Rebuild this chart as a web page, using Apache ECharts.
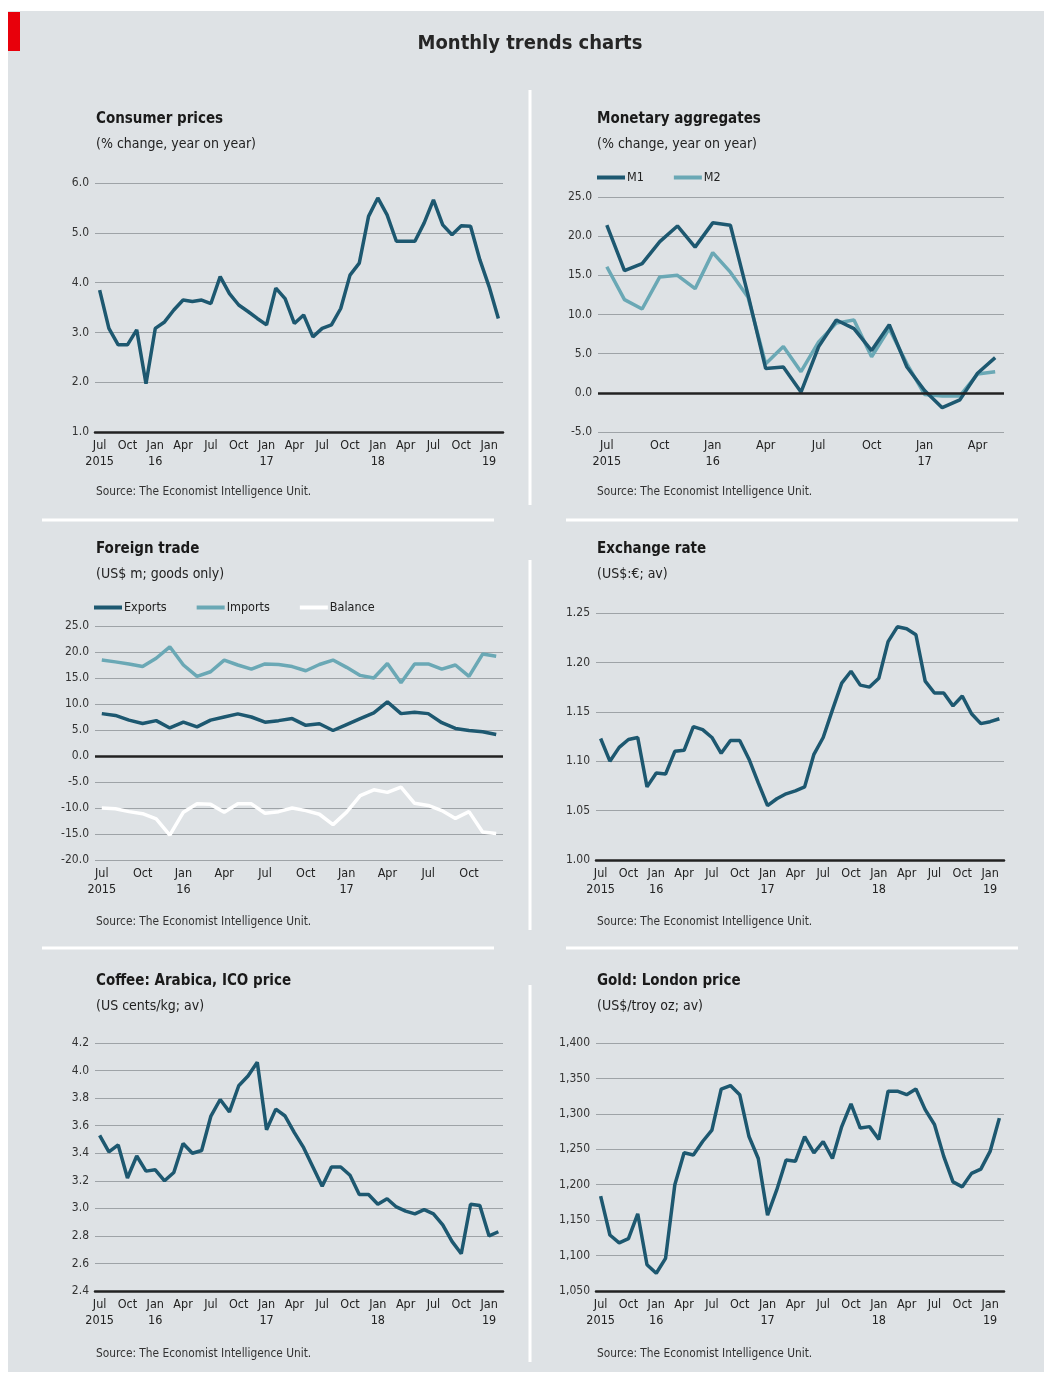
<!DOCTYPE html>
<html><head><meta charset="utf-8">
<script src="https://cdn.jsdelivr.net/npm/echarts@6/dist/echarts.min.js"></script>
<style>
html,body{margin:0;padding:0;background:#fff}
#bg{position:absolute;left:8px;top:11px;width:1036px;height:1361px;background:#dee2e5}
#c{position:absolute;left:0;top:0;width:1044px;height:1374px}
</style>
</head><body><div id="bg"></div><div id="c"></div><script>
// ---- categories (months) ----
const months44 = ['Jul 2015','Aug 2015','Sep 2015','Oct 2015','Nov 2015','Dec 2015',
  'Jan 2016','Feb 2016','Mar 2016','Apr 2016','May 2016','Jun 2016','Jul 2016','Aug 2016','Sep 2016','Oct 2016','Nov 2016','Dec 2016',
  'Jan 2017','Feb 2017','Mar 2017','Apr 2017','May 2017','Jun 2017','Jul 2017','Aug 2017','Sep 2017','Oct 2017','Nov 2017','Dec 2017',
  'Jan 2018','Feb 2018','Mar 2018','Apr 2018','May 2018','Jun 2018','Jul 2018','Aug 2018','Sep 2018','Oct 2018','Nov 2018','Dec 2018',
  'Jan 2019','Feb 2019'];
const monthsMoney = months44.slice(0, 23);   // Jul 2015 - May 2017
const monthsTrade = months44.slice(0, 30);   // Jul 2015 - Dec 2017

// ---- series values ----
const cpi = [3.85,3.08,2.75,2.75,3.05,1.97,3.08,3.21,3.45,3.65,3.62,3.65,3.58,4.12,3.78,3.55,3.42,3.28,3.15,3.89,3.68,3.18,3.35,2.91,3.08,3.15,3.48,4.15,4.39,5.33,5.70,5.36,4.83,4.83,4.83,5.20,5.66,5.16,4.96,5.14,5.13,4.46,3.92,3.28];
const m1 = [21.4,15.6,16.5,19.3,21.3,18.6,21.7,21.4,12.5,3.1,3.3,0.1,5.9,9.3,8.2,5.4,8.7,3.3,0.3,-1.9,-0.9,2.5,4.5];
const m2 = [16.1,11.9,10.7,14.8,15.0,13.3,17.9,15.4,12.2,3.7,5.9,2.7,6.5,8.9,9.3,4.6,8.2,3.7,-0.2,-0.4,-0.4,2.4,2.7];
const exportsV = [8.15,7.8,6.9,6.25,6.8,5.4,6.5,5.6,6.9,7.5,8.1,7.5,6.5,6.8,7.2,5.9,6.2,4.9,6.05,7.2,8.3,10.4,8.15,8.4,8.15,6.4,5.3,4.9,4.65,4.15];
const importsV = [18.45,18.1,17.7,17.2,18.8,21.0,17.5,15.3,16.2,18.45,17.5,16.7,17.7,17.6,17.2,16.4,17.6,18.45,17.05,15.5,15.0,17.8,14.1,17.7,17.7,16.7,17.5,15.3,19.6,19.2];
const balanceV = [-10.0,-10.15,-10.7,-11.1,-12.1,-15.2,-10.8,-9.2,-9.3,-10.8,-9.2,-9.2,-11.0,-10.7,-10.0,-10.5,-11.2,-13.2,-10.8,-7.6,-6.5,-7.0,-6.0,-9.1,-9.5,-10.5,-12.0,-10.7,-14.6,-14.9];
const fx = [1.123,1.100,1.114,1.122,1.124,1.074,1.088,1.087,1.110,1.111,1.135,1.132,1.124,1.108,1.121,1.121,1.102,1.078,1.055,1.062,1.067,1.070,1.074,1.107,1.124,1.152,1.179,1.191,1.177,1.175,1.184,1.221,1.236,1.234,1.228,1.181,1.169,1.169,1.156,1.166,1.148,1.138,1.140,1.143];
const coffee = [3.53,3.41,3.46,3.22,3.38,3.27,3.28,3.20,3.26,3.47,3.40,3.42,3.67,3.79,3.70,3.89,3.96,4.06,3.57,3.72,3.67,3.55,3.44,3.30,3.16,3.30,3.30,3.24,3.10,3.10,3.03,3.07,3.01,2.98,2.96,2.99,2.96,2.88,2.76,2.67,3.03,3.02,2.80,2.83];
const gold = [1184,1129,1118,1124,1159,1087,1075,1096,1200,1245,1242,1261,1277,1335,1340,1327,1268,1237,1157,1193,1235,1233,1268,1245,1261,1237,1282,1314,1280,1282,1264,1332,1332,1327,1335,1306,1285,1240,1204,1197,1216,1222,1247,1294];

// ---- text ----
const mainTitle = 'Monthly trends charts';
const panelTitles = ['Consumer prices','Monetary aggregates','Foreign trade','Exchange rate','Coffee: Arabica, ICO price','Gold: London price'];
const panelSubs = ['(% change, year on year)','(% change, year on year)','(US$ m; goods only)','(US$:€; av)','(US cents/kg; av)','(US$/troy oz; av)'];
const sourceText = 'Source: The Economist Intelligence Unit.';

const FONT = "'Liberation Sans Narrow','DejaVu Sans Condensed','Noto Sans',sans-serif";
const DARK = '#1d5870', LIGHT = '#6aa8b5', GRID = '#9ea3a7', AXIS = '#222';

function xLabel(v, idx) {
  const p = v.split(' ');
  if (idx === 0) return p[0] + '\n' + p[1];
  if (p[0] === 'Jan') return 'Jan\n' + p[1].slice(2);
  return p[0];
}
function xAxisFor(gi, cats, dark) {
  return {
    type: 'category', gridIndex: gi, data: cats, boundaryGap: true,
    axisTick: {show: false},
    axisLine: {show: dark, lineStyle: {color: AXIS, width: 2.5}},
    axisLabel: {interval: (i) => i % 3 === 0, formatter: xLabel, fontFamily: FONT, fontSize: 12.5,
      color: '#222', lineHeight: 16, margin: 6},
    splitLine: {show: false}
  };
}
function yAxisFor(gi, min, max, interval, fmt) {
  return {
    type: 'value', gridIndex: gi, min, max, interval,
    axisLine: {show: false}, axisTick: {show: false},
    axisLabel: {formatter: fmt, fontFamily: FONT, fontSize: 12, color: '#333', margin: 6},
    splitLine: {show: true, lineStyle: {color: GRID, width: 1}}
  };
}
const f1 = v => v.toFixed(1), f2 = v => v.toFixed(2), fc = v => v.toLocaleString('en-US');
function lineS(name, data, color, gi, extra) {
  return Object.assign({type: 'line', name, data, xAxisIndex: gi, yAxisIndex: gi, showSymbol: false,
    symbol: 'none', lineStyle: {color, width: 3.5}, itemStyle: {color}, z: 3, animation: false}, extra || {});
}
const zeroLine = {silent: true, symbol: 'none', label: {show: false},
  lineStyle: {color: AXIS, width: 2.5, type: 'solid'}, data: [{yAxis: 0}]};

const grids = [
  {left: 95, top: 183, width: 408, height: 249},
  {left: 598, top: 197, width: 406, height: 235},
  {left: 95, top: 626, width: 408, height: 234},
  {left: 596, top: 613, width: 408, height: 247},
  {left: 95, top: 1043, width: 408, height: 248},
  {left: 596, top: 1043, width: 408, height: 248}
];

const titlePos = [[96,119],[597,119],[96,549],[597,549],[96,981],[597,981]];
const srcPos = [[96,492],[597,492],[96,922],[597,922],[96,1354],[597,1354]];
const graphics = [
  {type: 'rect', shape: {x: 8, y: 12, width: 12, height: 39}, style: {fill: '#e8000b'}},
  {type: 'text', style: {text: mainTitle, x: 530, y: 44, align: 'center', verticalAlign: 'middle',
    font: "bold 20px " + FONT, fill: '#262626'}}
];
[[42,520,494,520],[566,520,1018,520],[42,948,494,948],[566,948,1018,948],
 [530,90,530,505],[530,560,530,930],[530,985,530,1362]].forEach(l => {
  graphics.push({type: 'line', shape: {x1: l[0], y1: l[1], x2: l[2], y2: l[3]}, style: {stroke: '#fff', lineWidth: 3}});
});
panelTitles.forEach((t, i) => {
  graphics.push({type: 'text', style: {text: t, x: titlePos[i][0], y: titlePos[i][1], verticalAlign: 'middle',
    font: "bold 15px " + FONT, fill: '#1a1a1a'}});
  graphics.push({type: 'text', style: {text: panelSubs[i], x: titlePos[i][0], y: titlePos[i][1] + 25, verticalAlign: 'middle',
    font: "14px " + FONT, fill: '#222'}});
  graphics.push({type: 'text', style: {text: sourceText, x: srcPos[i][0], y: srcPos[i][1], verticalAlign: 'middle',
    font: "11.8px " + FONT, fill: '#333'}});
});

const legendBase = {itemWidth: 28, itemHeight: 4, itemGap: 30, icon: 'rect', padding: 0,
  textStyle: {fontFamily: FONT, fontSize: 12.5, color: '#222', padding: [0, 0, 0, -3]}};

const option = {
  animation: false,
  grid: grids,
  xAxis: [xAxisFor(0, months44, true), xAxisFor(1, monthsMoney, false), xAxisFor(2, monthsTrade, false),
          xAxisFor(3, months44, true), xAxisFor(4, months44, true), xAxisFor(5, months44, true)],
  yAxis: [yAxisFor(0, 1, 6, 1, f1), yAxisFor(1, -5, 25, 5, f1), yAxisFor(2, -20, 25, 5, f1),
          yAxisFor(3, 1.0, 1.25, 0.05, f2), yAxisFor(4, 2.4, 4.2, 0.2, f1), yAxisFor(5, 1050, 1400, 50, fc)],
  legend: [
    Object.assign({}, legendBase, {data: ['M1', 'M2'], left: 597, top: 171}),
    Object.assign({}, legendBase, {data: ['Exports', 'Imports', 'Balance'], left: 94, top: 601})
  ],
  graphic: graphics,
  series: [
    lineS('CPI', cpi, DARK, 0),
    lineS('M2', m2, LIGHT, 1, {markLine: zeroLine, z: 2}),
    lineS('M1', m1, DARK, 1),
    lineS('Imports', importsV, LIGHT, 2, {markLine: zeroLine}),
    lineS('Exports', exportsV, DARK, 2),
    lineS('Balance', balanceV, '#ffffff', 2),
    lineS('Exchange', fx, DARK, 3),
    lineS('Coffee', coffee, DARK, 4),
    lineS('Gold', gold, DARK, 5)
  ]
};
const chart = echarts.init(document.getElementById('c'), null, {renderer: 'canvas'});
chart.setOption(option);
</script></body></html>
